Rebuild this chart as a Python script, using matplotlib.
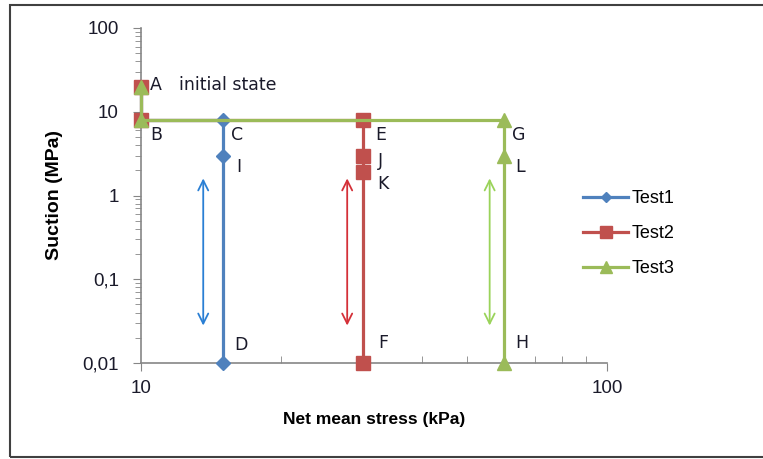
import numpy as np
import matplotlib.pyplot as plt
from matplotlib.patches import Rectangle
from matplotlib.ticker import FixedLocator, LogLocator, NullFormatter

plt.rcParams['font.family'] = ['Liberation Sans', 'DejaVu Sans']

# Test paths (net mean stress kPa, suction MPa)
test1_x = [10, 10, 15, 15, 15]
test1_y = [20, 8, 8, 3, 0.01]
test2_x = [10, 10, 30, 30, 30, 30]
test2_y = [20, 8, 8, 3, 1.9, 0.01]
test3_x = [10, 10, 60, 60, 60]
test3_y = [20, 8, 8, 3, 0.01]

# point labels: (name, x, y, offset in pixels)
point_labels = [
    ('A', 10, 20, (9, 2)), ('initial state', 10, 20, (38, 2)),
    ('B', 10, 8, (9, -15)), ('C', 15, 8, (8, -15)),
    ('I', 15, 3, (13, -11)), ('D', 15, 0.01, (11, 18)),
    ('E', 30, 8, (12, -15)), ('J', 30, 3, (15, -5)),
    ('K', 30, 1.9, (14, -12)), ('F', 30, 0.01, (15, 20)),
    ('G', 60, 8, (8, -15)), ('L', 60, 3, (12, -11)),
    ('H', 60, 0.01, (12, 20)),
]

# wetting/drying cycle arrows
arrow_x = [13.6, 27.7, 56]
arrow_top = 1.6
arrow_bottom = 0.028
arrow_colors = ['#2a7fd4', '#d43038', '#9ad35a']

y_ticks = [0.01, 0.1, 1, 10, 100]
y_ticklabels = ['0,01', '0,1', '1', '10', '100']

fig = plt.figure(figsize=(7.63, 4.59), dpi=100)
fig.patches.append(Rectangle((10 / 763, 2 / 459), 760 / 763, 452 / 459,
                             transform=fig.transFigure, fill=False,
                             edgecolor='#404040', lw=1.5))
ax = fig.add_axes([141 / 763, 96 / 459, 466 / 763, 335 / 459])

ax.plot(test1_x, test1_y, color='#4f81bd', lw=2.3, marker='D', ms=7,
        label='Test1', clip_on=False, zorder=3)
ax.plot(test2_x, test2_y, color='#c0504d', lw=2.3, marker='s', ms=10,
        label='Test2', clip_on=False, zorder=3)
ax.plot(test3_x, test3_y, color='#9bbb59', lw=2.3, marker='^', ms=10,
        label='Test3', clip_on=False, zorder=3)

for x, c in zip(arrow_x, arrow_colors):
    ax.annotate('', xy=(x, arrow_bottom), xytext=(x, arrow_top),
                arrowprops=dict(arrowstyle='<->', color=c, lw=1.3,
                                mutation_scale=18, shrinkA=0, shrinkB=0))

for name, x, y, off in point_labels:
    ax.annotate(name, (x, y), xytext=off, textcoords='offset pixels',
                ha='left', va='center', fontsize=12.5, color='#1a1a2a',
                family='DejaVu Sans', annotation_clip=False)

ax.set_xscale('log')
ax.set_yscale('log')
ax.set_xlim(10, 100)
ax.set_ylim(0.01, 100)
ax.yaxis.set_major_locator(FixedLocator(y_ticks))
ax.set_yticklabels(y_ticklabels)
ax.yaxis.set_minor_locator(LogLocator(base=10, subs=np.arange(2, 10)))
ax.yaxis.set_minor_formatter(NullFormatter())
ax.set_xticks([10, 100])
ax.set_xticklabels(['10', '100'])
ax.xaxis.set_minor_locator(LogLocator(base=10, subs=np.arange(2, 10)))
ax.xaxis.set_minor_formatter(NullFormatter())

for side in ['top', 'right']:
    ax.spines[side].set_visible(False)
for side in ['left', 'bottom']:
    ax.spines[side].set_color('#868686')
    ax.spines[side].set_linewidth(1.2)
ax.tick_params(axis='both', which='both', color='#868686', labelsize=13.5, labelcolor='#1a1a2a')
ax.tick_params(axis='y', which='major', direction='out', length=6, pad=10)
ax.tick_params(axis='y', which='minor', direction='out', length=4)
ax.tick_params(axis='x', which='major', direction='out', length=6, pad=6)
ax.tick_params(axis='x', which='minor', direction='in', length=5)

ax.set_xlabel('Net mean stress (kPa)', fontsize=12.5, fontweight='bold', labelpad=11)
ax.set_ylabel('Suction (MPa)', fontsize=14, fontweight='bold', labelpad=14)

fig.legend(loc='upper left', bbox_to_anchor=(567 / 763, 1 - 174 / 459), frameon=False,
           fontsize=13, handlelength=2.5, labelspacing=1.0, handletextpad=0.2,
           markerscale=0.8)

fig.savefig('out.png', dpi=100)
